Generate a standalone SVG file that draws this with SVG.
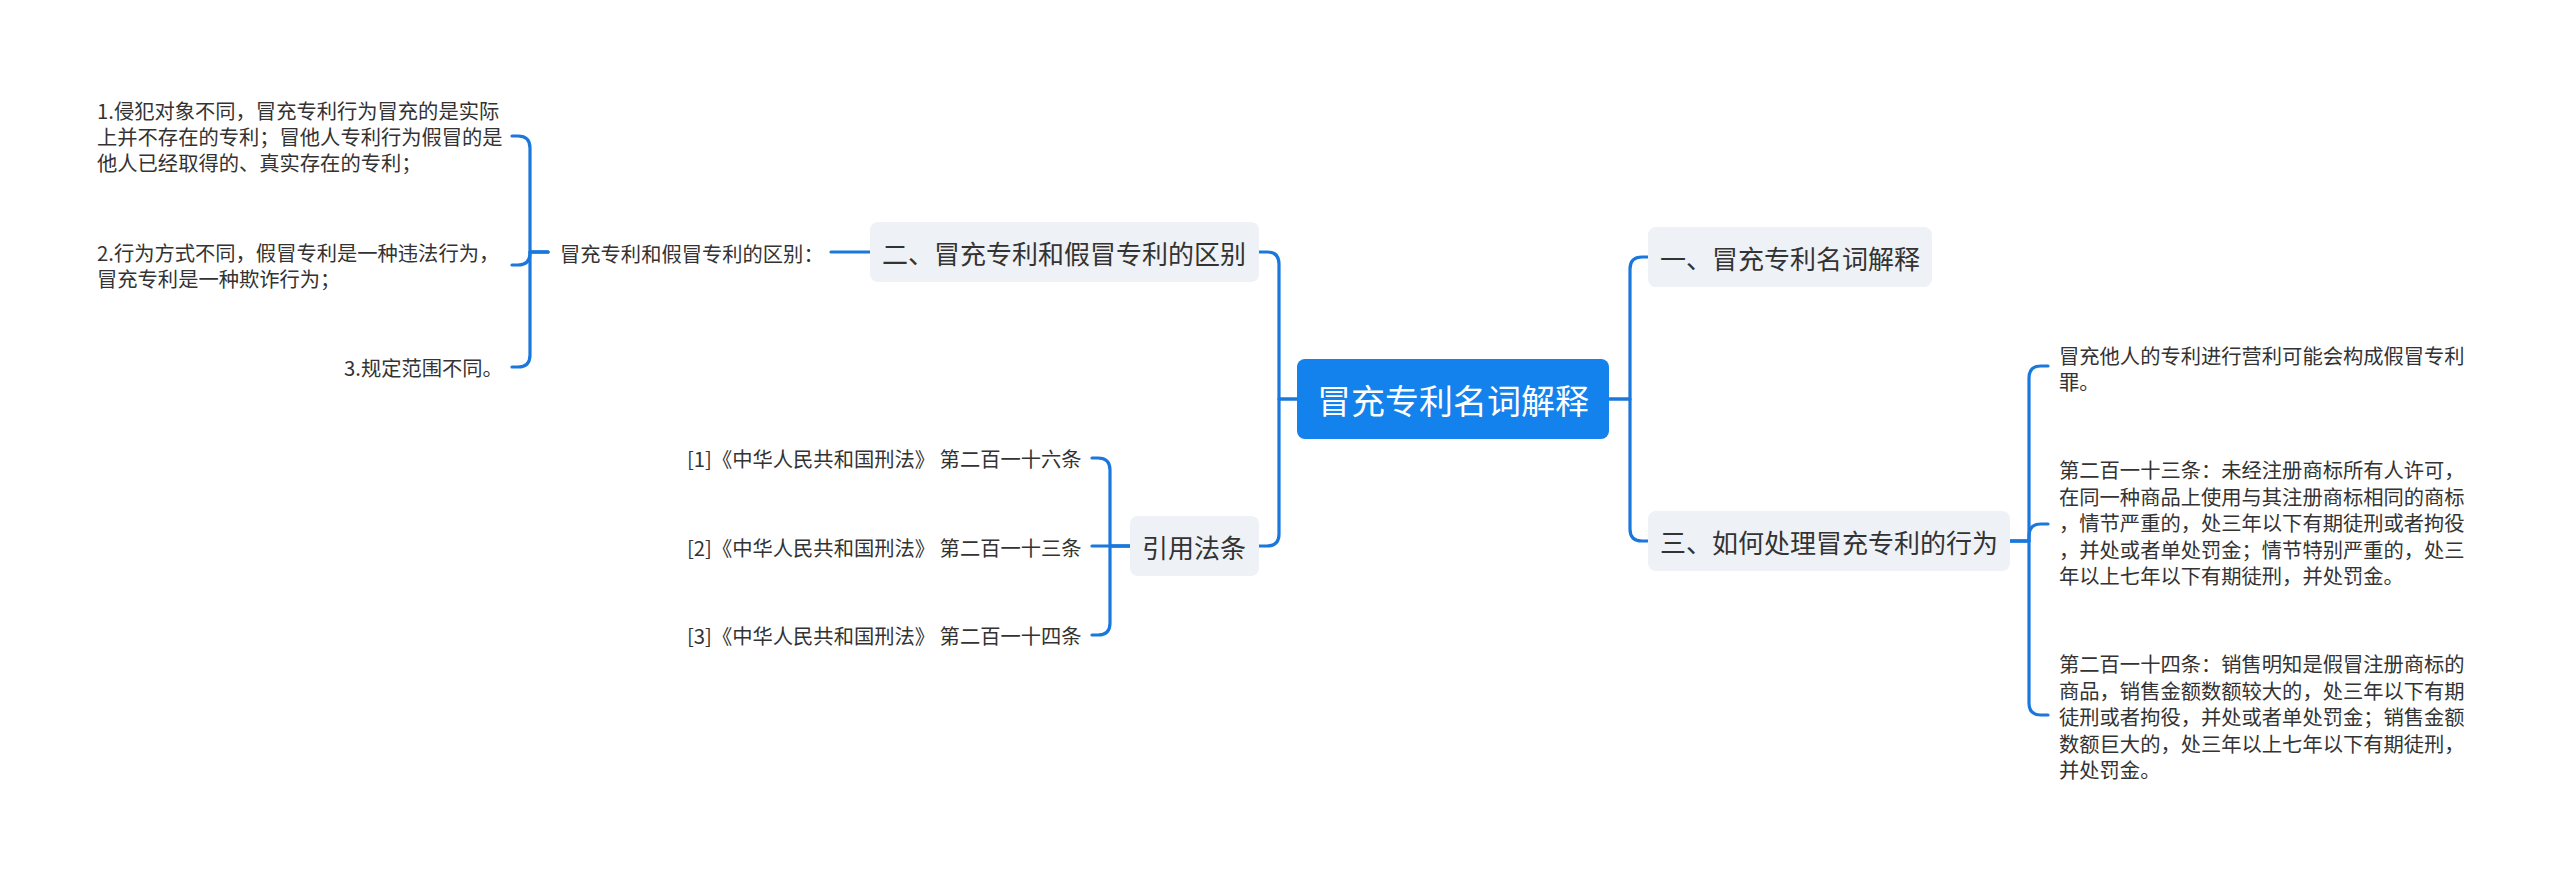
<svg xmlns="http://www.w3.org/2000/svg" width="2560" height="877" viewBox="0 0 2560 877">
<style>
.bg{fill:#ffffff}
.root{fill:#1482ec}
.n1{fill:#eef1f5}
.t{font-family:"Noto Sans CJK SC","Noto Sans",sans-serif;fill:#333333;dominant-baseline:central}
.rt{font-family:"Noto Sans CJK SC","Noto Sans",sans-serif;fill:#ffffff;font-size:34px;dominant-baseline:central}
.t1{font-size:26px}
.t2{font-size:20.3px}
.c{fill:none;stroke:#1a78dc;stroke-width:3.2;stroke-linecap:round;stroke-linejoin:round}
</style>
<rect class="bg" x="0" y="0" width="2560" height="877"/>
<g id="connectors">
<path class="c" d="M1297 399 H1279 V264 Q1279 252 1267 252 H1259"/>
<path class="c" d="M1297 399 H1279 V534 Q1279 546 1267 546 H1259"/>
<path class="c" d="M1609 399 H1630 V269 Q1630 257 1642 257 H1648"/>
<path class="c" d="M1609 399 H1630 V529 Q1630 541 1642 541 H1648"/>
<path class="c" d="M870 252 H831"/>
<path class="c" d="M548 252 H530 V148 Q530 136 518 136 H512"/>
<path class="c" d="M548 252 H530 V253 Q530 265 518 265 H512"/>
<path class="c" d="M548 252 H530 V355 Q530 367 518 367 H512"/>
<path class="c" d="M1130 546 H1110 V470 Q1110 458 1098 458 H1092"/>
<path class="c" d="M1130 546 H1092"/>
<path class="c" d="M1130 546 H1110 V623 Q1110 635 1098 635 H1092"/>
<path class="c" d="M2009 541 H2029 V378 Q2029 366 2041 366 H2048"/>
<path class="c" d="M2009 541 H2029 V536 Q2029 524 2041 524 H2048"/>
<path class="c" d="M2009 541 H2029 V703 Q2029 715 2041 715 H2048"/>
</g>
<g id="root">
<rect class="root" x="1297" y="359" width="312" height="80" rx="8"/>
<text class="rt" x="1453" y="399" text-anchor="middle">冒充专利名词解释</text>
</g>
<g id="n-yi">
<rect class="n1" x="1648" y="227" width="284" height="60" rx="8"/>
<text class="t t1" x="1660" y="257">一、冒充专利名词解释</text>
</g>
<g id="n-er">
<rect class="n1" x="870" y="222" width="389" height="60" rx="8"/>
<text class="t t1" x="882" y="252">二、冒充专利和假冒专利的区别</text>
</g>
<g id="n-san">
<rect class="n1" x="1648" y="511" width="362" height="60" rx="8"/>
<text class="t t1" x="1660" y="541">三、如何处理冒充专利的行为</text>
</g>
<g id="n-law">
<rect class="n1" x="1130" y="516" width="129" height="60" rx="8"/>
<text class="t t1" x="1142" y="546">引用法条</text>
</g>
<g id="n-er-label">
<text class="t t2" x="560" y="253">冒充专利和假冒专利的区别：</text>
</g>
<g id="n-er-1">
<text class="t t2" x="97" y="110">1.侵犯对象不同，冒充专利行为冒充的是实际</text>
<text class="t t2" x="97" y="136">上并不存在的专利；冒他人专利行为假冒的是</text>
<text class="t t2" x="97" y="162">他人已经取得的、真实存在的专利；</text>
</g>
<g id="n-er-2">
<text class="t t2" x="97" y="252">2.行为方式不同，假冒专利是一种违法行为，</text>
<text class="t t2" x="97" y="278">冒充专利是一种欺诈行为；</text>
</g>
<g id="n-er-3">
<text class="t t2" x="344" y="367">3.规定范围不同。</text>
</g>
<g id="n-law-1"><text class="t t2" x="687" y="458">[1]《中华人民共和国刑法》 第二百一十六条</text></g>
<g id="n-law-2"><text class="t t2" x="687" y="547">[2]《中华人民共和国刑法》 第二百一十三条</text></g>
<g id="n-law-3"><text class="t t2" x="687" y="635">[3]《中华人民共和国刑法》 第二百一十四条</text></g>
<g id="n-san-1">
<text class="t t2" x="2059" y="355">冒充他人的专利进行营利可能会构成假冒专利</text>
<text class="t t2" x="2059" y="381">罪。</text>
</g>
<g id="n-san-2">
<text class="t t2" x="2059" y="469">第二百一十三条：未经注册商标所有人许可，</text>
<text class="t t2" x="2059" y="496">在同一种商品上使用与其注册商标相同的商标</text>
<text class="t t2" x="2059" y="522">，情节严重的，处三年以下有期徒刑或者拘役</text>
<text class="t t2" x="2059" y="549">，并处或者单处罚金；情节特别严重的，处三</text>
<text class="t t2" x="2059" y="575">年以上七年以下有期徒刑，并处罚金。</text>
</g>
<g id="n-san-3">
<text class="t t2" x="2059" y="663">第二百一十四条：销售明知是假冒注册商标的</text>
<text class="t t2" x="2059" y="690">商品，销售金额数额较大的，处三年以下有期</text>
<text class="t t2" x="2059" y="716">徒刑或者拘役，并处或者单处罚金；销售金额</text>
<text class="t t2" x="2059" y="743">数额巨大的，处三年以上七年以下有期徒刑，</text>
<text class="t t2" x="2059" y="769">并处罚金。</text>
</g>
</svg>
